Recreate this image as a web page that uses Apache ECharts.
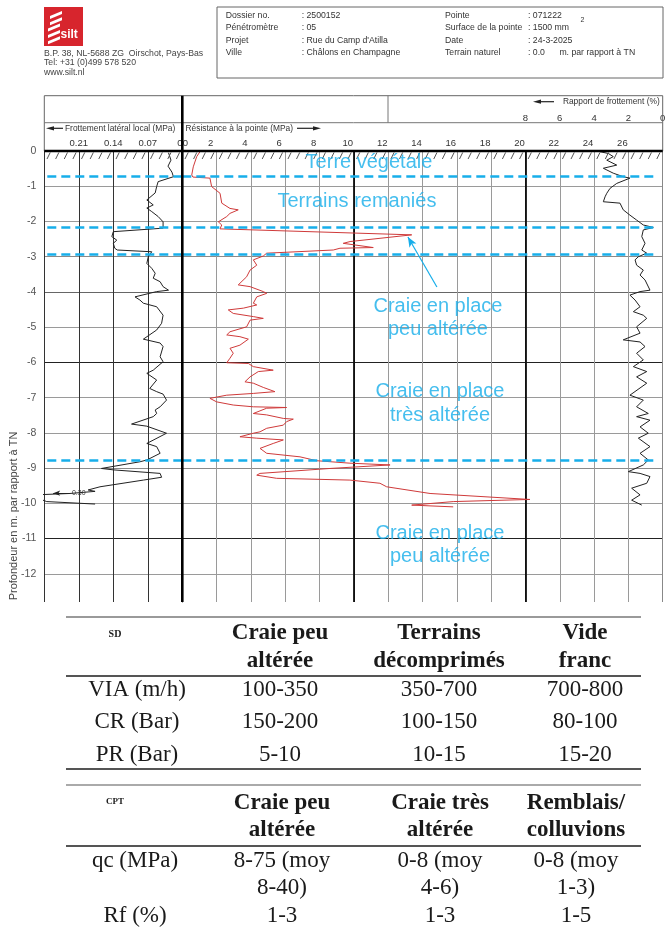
<!DOCTYPE html>
<html><head><meta charset="utf-8">
<script src="https://cdn.jsdelivr.net/npm/echarts@6/dist/echarts.min.js"></script>
<style>html,body{margin:0;padding:0;background:#fff}#c{width:667px;height:934px}</style>
</head><body><div id="c"></div>
<script>
// ---------- DATA (depth in m below TN, shown as negative) ----------
const fsDepth = [0.05,0.26,0.43,0.60,0.73,0.87,1.01,1.19,1.39,1.44,1.53,1.62,1.72,1.86,2.01,2.19,2.29,2.43,2.53,2.62,2.76,2.81,2.86,3.00,3.19,3.33,3.47,3.61,3.71,3.85,3.95,3.99,4.14,4.23,4.32,4.42,4.66,4.89,5.08,5.34,5.45,5.55,5.84,5.98,6.22,6.31,6.50,6.74,6.83,6.90,7.07,7.26,7.35,7.45,7.54,7.75,7.81,8.01,8.30,8.39,8.58,8.77,8.82,9.01,9.05,9.15,9.26,9.34,9.53,9.62,9.66,9.72,9.76,9.82,9.95,10.02];
const fsValue = [0.028,0.023,0.029,0.021,0.018,0.049,0.052,0.055,0.072,0.076,0.059,0.072,0.062,0.049,0.039,0.039,0.140,0.143,0.133,0.140,0.137,0.132,0.062,0.069,0.072,0.062,0.055,0.059,0.045,0.039,0.028,0.052,0.096,0.086,0.079,0.052,0.039,0.042,0.052,0.079,0.045,0.039,0.045,0.039,0.059,0.072,0.052,0.066,0.052,0.039,0.032,0.045,0.055,0.052,0.059,0.103,0.072,0.032,0.072,0.052,0.045,0.072,0.086,0.164,0.140,0.045,0.042,0.079,0.167,0.191,0.177,0.228,0.300,0.300,0.275,0.177];

const qcDepth = [0.02,0.16,0.45,0.68,0.74,0.77,1.01,1.20,1.48,1.63,1.67,1.77,1.86,2.01,2.10,2.21,2.38,2.57,2.62,2.74,2.76,2.81,2.90,2.98,3.09,3.24,3.38,3.57,3.80,3.85,3.99,4.04,4.14,4.32,4.37,4.46,4.51,4.61,4.70,4.75,4.80,4.99,5.13,5.22,5.27,5.34,5.51,5.60,5.74,5.88,6.01,6.03,6.12,6.22,6.26,6.41,6.55,6.59,6.71,6.83,6.88,6.93,7.02,7.12,7.21,7.26,7.28,7.30,7.45,7.49,7.59,7.61,7.68,7.78,7.87,7.97,8.01,8.11,8.15,8.20,8.30,8.44,8.58,8.68,8.79,8.86,8.91,9.01,9.15,9.20,9.29,9.34,9.43,9.53,9.72,9.89,9.95,10.05,10.10];
const qcValue = [1.03,0.84,0.64,0.55,0.62,1.61,1.71,2.20,2.30,2.78,3.26,2.78,2.59,2.10,2.30,2.20,13.37,9.78,9.38,11.13,9.19,8.80,4.92,4.72,4.14,4.34,3.95,3.75,3.26,3.95,4.72,4.92,4.34,4.14,4.34,3.56,2.68,2.97,4.14,4.72,3.95,3.75,2.78,2.59,3.36,3.85,3.36,2.78,2.97,2.78,2.59,3.85,4.14,5.30,4.43,3.95,3.65,4.14,4.72,5.40,4.14,2.59,1.61,2.00,2.97,4.14,6.08,4.92,4.14,4.92,5.89,6.47,6.08,5.89,4.92,4.53,4.14,3.36,4.34,5.89,5.30,4.53,4.92,6.86,7.83,9.77,12.11,8.61,4.53,4.34,5.50,9.77,11.52,11.91,14.44,20.26,15.79,13.37,15.79];

const rfDepth = [0.02,0.07,0.16,0.26,0.40,0.49,0.63,0.73,0.77,0.92,1.06,1.20,1.30,1.44,1.48,1.67,1.82,1.96,2.10,2.17,2.24,2.43,2.62,2.81,2.90,3.00,3.09,3.24,3.38,3.52,3.66,3.95,3.99,4.09,4.23,4.42,4.56,4.66,4.75,4.99,5.17,5.36,5.42,5.55,5.74,5.93,6.12,6.26,6.41,6.59,6.93,7.07,7.26,7.45,7.54,7.64,7.83,8.01,8.15,8.39,8.58,8.77,8.91,9.10,9.15,9.24,9.43,9.57,9.76,9.91,10.05];
const rfValue = [3.65,3.17,2.88,3.26,2.68,3.46,2.88,2.30,1.91,2.68,3.07,3.26,3.36,3.46,2.49,2.30,1.91,1.52,1.13,0.55,1.13,1.22,1.03,1.22,0.93,1.42,1.61,1.52,1.13,1.32,1.03,0.74,1.32,1.91,1.61,1.32,1.71,1.13,0.93,1.52,1.32,2.30,1.32,1.03,1.52,1.13,1.71,0.93,1.52,0.93,1.91,1.13,1.52,0.84,1.52,0.74,1.32,0.84,1.42,0.74,1.32,0.84,1.13,2.00,1.32,0.74,0.93,1.81,1.32,1.81,1.22];

const layerBoundaries = [0.71, 2.17, 2.92, 8.79];
const zoneLabels = ['Terre végétale','Terrains remaniés','Craie en place\npeu altérée','Craie en place\ntrès altérée','Craie en place\npeu altérée'];
const zoneLabelQc = [10.88, 10.18, 14.9, 15.02, 15.02];
const zoneLabelDepth = [0.34, 1.43, 4.74, 7.16, 11.18];
const arrowFrom = [14.84, 3.86], arrowTo = [13.15, 2.44];
const fsOffscaleLabel = '0.30';

const headerLeft = [['Dossier no.', ': 2500152'], ['Pénétromètre', ': 05'], ['Projet', ': Rue du Camp d\'Atilla'], ['Ville', ': Châlons en Champagne']];
const headerRight = [['Pointe', ': 071222'], ['Surface de la pointe', ': 1500 mm'], ['Date', ': 24-3-2025'], ['Terrain naturel', ': 0.0      m. par rapport à TN']];
const address = ['B.P. 38, NL-5688 ZG  Oirschot, Pays-Bas', 'Tel: +31 (0)499 578 520', 'www.silt.nl'];

const sdTitle = 'SD';
const sdHeader = [['Craie peu','altérée'], ['Terrains','décomprimés'], ['Vide','franc']];
const sdRows = [['VIA (m/h)','100-350','350-700','700-800'], ['CR (Bar)','150-200','100-150','80-100'], ['PR (Bar)','5-10','10-15','15-20']];
const cptTitle = 'CPT';
const cptHeader = [['Craie peu','altérée'], ['Craie très','altérée'], ['Remblais/','colluvions']];
const cptRows = [[['qc (MPa)'], ['8-75 (moy','8-40)'], ['0-8 (moy','4-6)'], ['0-8 (moy','1-3)']], [['Rf (%)'], ['1-3'], ['1-3'], ['1-5']]];

// ---------- LAYOUT ----------
const BLUE = '#17aeea';
const SANS = 'Liberation Sans';
const SERIF = 'Liberation Serif';
const GT = 151, GH = 451, GL0 = 44.3, GW0 = 138, GL1 = 182.3, GW1 = 480.4;
const DEPTH_MAX = 12.8;

const hatchQc = []; for (let i = 0; i < 56; i++) hatchQc.push([0.25 + i * 0.5, 0]);
const hatchFs = []; for (let i = 0; i < 16; i++) hatchFs.push([0.00875 + i * 0.0175, 0]);

function depthLabel(v) { return Math.abs(v - Math.round(v)) < 1e-6 ? (Math.round(v) === 0 ? '0' : '-' + Math.round(v)) : ''; }
const hColors = ['#000','#9a9a9a','#9a9a9a','#8a8a8a','#666','#9a9a9a','#222','#9a9a9a','#9a9a9a','#8a8a8a','#9a9a9a','#222','#9a9a9a','#fff'];
function yAx(gi) {
  return {
    type: 'value', gridIndex: gi, min: 0, max: DEPTH_MAX, interval: 1, inverse: true,
    axisLine: { show: gi === 0, lineStyle: { color: '#333', width: 1 } },
    axisTick: { show: false },
    axisLabel: { show: gi === 0, formatter: depthLabel, color: '#555', fontSize: 10.5, margin: 8, fontFamily: SANS, showMaxLabel: false },
    splitLine: { show: true, showMaxLine: false, lineStyle: { color: hColors, width: 1 } }
  };
}
const hatchRender = (params, api) => {
  const p = api.coord([api.value(0), 0]);
  return { type: 'line', shape: { x1: p[0] - 1.6, y1: p[1] + 8, x2: p[0] + 1.6, y2: p[1] + 1.5 }, style: { stroke: '#555', lineWidth: 1 } };
};

const g = [];
const T = (text, x, y, o) => g.push(Object.assign({ type: 'text', z: 100, style: Object.assign({ text, x, y, fill: '#333', fontSize: 8.7, fontFamily: SANS, verticalAlign: 'middle', align: 'left' }, o || {}) }));
const L = (x1, y1, x2, y2, stroke, w) => g.push({ type: 'line', z: 100, shape: { x1, y1, x2, y2 }, style: { stroke, lineWidth: w } });
const P = (pts, fill) => g.push({ type: 'polygon', z: 100, shape: { points: pts }, style: { fill } });

// logo
g.push({ type: 'rect', z: 100, shape: { x: 44, y: 7, width: 39, height: 39 }, style: { fill: '#d7252d' } });
for (let k = 0; k < 5; k++) { const y = 11 + k * 6.3; const dx = k < 2 ? 2 : 0; P([[48 + dx, y + 5], [60 + dx, y], [60 + dx, y + 3], [48 + dx, y + 8]], '#fff'); }
T('silt', 60.5, 35, { fill: '#fff', fontSize: 12, fontWeight: 'bold' });
address.forEach((t, i) => T(t, 44, 53.3 + i * 9.8, { fill: '#444' }));
// info box
g.push({ type: 'rect', z: 100, shape: { x: 217, y: 7, width: 446, height: 71 }, style: { fill: 'none', stroke: '#666', lineWidth: 1 } });
headerLeft.forEach((r, i) => { T(r[0], 225.7, 15.7 + i * 12.3); T(r[1], 301.7, 15.7 + i * 12.3); });
headerRight.forEach((r, i) => { T(r[0], 445, 15.7 + i * 12.3); T(r[1], 528, 15.7 + i * 12.3); });
T('2', 580.5, 20.5, { fontSize: 7 });

// chart header frame
g.push({ type: 'rect', z: 100, shape: { x: GL0, y: 95.7, width: 618.4, height: 55.3 }, style: { fill: 'none', stroke: '#666', lineWidth: 1 } });
L(GL0, 122.7, 662.7, 122.7, '#777', 1);
L(388, 95.7, 388, 122.7, '#777', 1);
L(GL1, 95.7, GL1, GT + GH, '#000', 2.6);
L(GL0, GT, 662.7, GT, '#000', 2.6);
T('Frottement latéral local (MPa)', 65, 128.3, { fontSize: 8.4 });
T('Résistance à la pointe (MPa)', 185.5, 128.3, { fontSize: 8.4 });
T('Rapport de frottement (%)', 659.7, 101.7, { fontSize: 8.4, align: 'right' });
L(52, 128.3, 63, 128.3, '#222', 1.2); P([[46, 128.3], [54, 126.2], [54, 130.4]], '#222');
L(297, 128.3, 314, 128.3, '#222', 1.2); P([[321, 128.3], [313, 126.2], [313, 130.4]], '#222');
L(540, 101.7, 554, 101.7, '#222', 1.2); P([[533, 101.7], [541, 99.6], [541, 103.8]], '#222');
// y axis name
g.push({ type: 'text', z: 100, x: 14, y: 516, rotation: Math.PI / 2, style: { text: 'Profondeur en m. par rapport à TN', x: 0, y: 0, fill: '#444', fontSize: 11, fontFamily: SANS, align: 'center', verticalAlign: 'middle' } });

// tables
const TS = { fontFamily: SERIF, fontSize: 23, fill: '#1a1a1a', align: 'center' };
const TB = Object.assign({}, TS, { fontWeight: 'bold' });
L(66, 617, 641, 617, '#9a9a9a', 2);
L(66, 676, 641, 676, '#555', 2);
L(66, 769, 641, 769, '#555', 2);
L(66, 785, 641, 785, '#aaa', 2);
L(66, 846, 641, 846, '#555', 2);
const c1 = [137, 280, 439, 585];
T(sdTitle, 115, 634, { fontFamily: SERIF, fontWeight: 'bold', fontSize: 10, fill: '#1a1a1a', align: 'center' });
sdHeader.forEach((h, i) => { T(h[0], c1[i + 1], 633, TB); T(h[1], c1[i + 1], 661, TB); });
sdRows.forEach((r, ri) => r.forEach((t, ci) => T(t, c1[ci], 690 + ri * 32.3, TS)));
const c2 = [135, 282, 440, 576];
T(cptTitle, 115, 802, { fontFamily: SERIF, fontWeight: 'bold', fontSize: 9, fill: '#1a1a1a', align: 'center' });
cptHeader.forEach((h, i) => { T(h[0], c2[i + 1], 803, TB); T(h[1], c2[i + 1], 830, TB); });
const rowY = [861, 916];
cptRows.forEach((r, ri) => r.forEach((cell, ci) => cell.forEach((t, li) => T(t, c2[ci], rowY[ri] + li * 27, TS))));

const axLbl = { color: '#333', fontSize: 9.5, fontFamily: SANS, margin: 3, showMinLabel: true, showMaxLabel: true };
const qcColors = []; for (let i = 0; i <= 14; i++) qcColors.push(i === 0 ? '#000' : (i === 5 || i === 10) ? '#111' : (i === 14 ? '#888' : '#9a9a9a'));

const option = {
  animation: false,
  backgroundColor: '#fff',
  grid: [
    { left: GL0, top: GT, width: GW0, height: GH, containLabel: false, outerBoundsMode: 'none' },
    { left: GL1, top: GT, width: GW1, height: GH, containLabel: false, outerBoundsMode: 'none' }
  ],
  xAxis: [
    { type: 'value', gridIndex: 0, min: 0, max: 0.28, interval: 0.07, inverse: true, position: 'top',
      axisLine: { show: false }, axisTick: { show: false },
      axisLabel: Object.assign({}, axLbl, { formatter: v => { const r = Math.round(v * 100) / 100; if (r >= 0.28) return ''; if (r === 0) return '{z|0}'; return r.toFixed(2); }, rich: { z: { padding: [0, 5, 0, 0], fontSize: 9.5, color: '#333' } } }),
      splitLine: { show: true, lineStyle: { color: ['#000', '#333', '#333', '#333', '#333'], width: 1 } } },
    { type: 'value', gridIndex: 1, min: 0, max: 28, interval: 2, position: 'top',
      axisLine: { show: false }, axisTick: { show: false },
      axisLabel: Object.assign({}, axLbl, { formatter: v => v >= 28 ? '' : (v === 0 ? '{z|0}' : '{n|' + v + '}'), rich: { z: { padding: [0, 0, 0, 6], fontSize: 9.5, color: '#333' }, n: { padding: [0, 12, 0, 0], fontSize: 9.5, color: '#333' } } }),
      splitLine: { show: true, lineStyle: { color: qcColors, width: 1 } } },
    { type: 'value', gridIndex: 1, min: 0, max: 28, interval: 2, inverse: true, position: 'top', offset: 25,
      axisLine: { show: false }, axisTick: { show: false },
      axisLabel: Object.assign({}, axLbl, { formatter: v => v <= 8 ? String(v) : '' }),
      splitLine: { show: false } },
    { type: 'value', gridIndex: 1, min: 0, max: 28, interval: 10, position: 'bottom',
      axisLine: { show: false }, axisTick: { show: false }, axisLabel: { show: false },
      splitLine: { show: true, lineStyle: { color: ['rgba(0,0,0,0)', '#111', '#111', 'rgba(0,0,0,0)'], width: 1.8 } } }
  ],
  yAxis: [yAx(0), yAx(1)],
  series: [
    { type: 'line', name: 'Frottement latéral local', xAxisIndex: 0, yAxisIndex: 0, symbol: 'none', clip: true, z: 3,
      data: fsDepth.map((d, i) => [fsValue[i], d]), lineStyle: { color: '#222', width: 1 },
      markLine: { silent: true, symbol: 'none', label: { show: false }, lineStyle: { color: BLUE, width: 2.6, type: [9, 5] },
        data: layerBoundaries.map(d => ({ yAxis: d })).concat([[
          { coord: [0.228, 9.71], symbol: 'none', lineStyle: { color: '#222', width: 1, type: 'solid' }, label: { show: true, position: 'start', formatter: fsOffscaleLabel, fontSize: 7, color: '#333', distance: 2 } },
          { coord: [0.262, 9.71], symbol: 'arrow', symbolSize: [4, 7] }
        ]]) } },
    { type: 'line', name: 'Résistance à la pointe', xAxisIndex: 1, yAxisIndex: 1, symbol: 'none', clip: true, z: 3,
      data: qcDepth.map((d, i) => [qcValue[i], d]), lineStyle: { color: '#cf3a3a', width: 1 },
      markLine: { silent: true, symbol: 'none', label: { show: false }, lineStyle: { color: BLUE, width: 2.6, type: [9, 5] },
        data: layerBoundaries.map(d => [{ coord: [0, d] }, { coord: [27.55, d] }]).concat([[
          { coord: arrowFrom, symbol: 'none', lineStyle: { color: BLUE, width: 1.2, type: 'solid' } },
          { coord: arrowTo, symbol: 'arrow', symbolSize: [6, 10] }
        ]]) } },
    { type: 'line', name: 'Rapport de frottement', xAxisIndex: 2, yAxisIndex: 1, symbol: 'none', clip: true, z: 3,
      data: rfDepth.map((d, i) => [rfValue[i], d]), lineStyle: { color: '#222', width: 1 } },
    { type: 'custom', xAxisIndex: 1, yAxisIndex: 1, data: hatchQc, renderItem: hatchRender, silent: true, z: 4 },
    { type: 'custom', xAxisIndex: 0, yAxisIndex: 0, data: hatchFs, renderItem: hatchRender, silent: true, z: 4 },
    { type: 'scatter', xAxisIndex: 1, yAxisIndex: 1, symbolSize: 1, silent: true, z: 6,
      itemStyle: { color: 'rgba(0,0,0,0)' },
      data: zoneLabels.map((t, i) => ({ value: [zoneLabelQc[i], zoneLabelDepth[i]], name: t })),
      label: { show: true, position: 'inside', formatter: p => p.name, color: BLUE, fontSize: 20, lineHeight: 23.5, fontFamily: SANS, align: 'center', verticalAlign: 'middle' } }
  ],
  graphic: { elements: g }
};
const chart = echarts.init(document.getElementById('c'));
chart.setOption(option);
</script></body></html>
